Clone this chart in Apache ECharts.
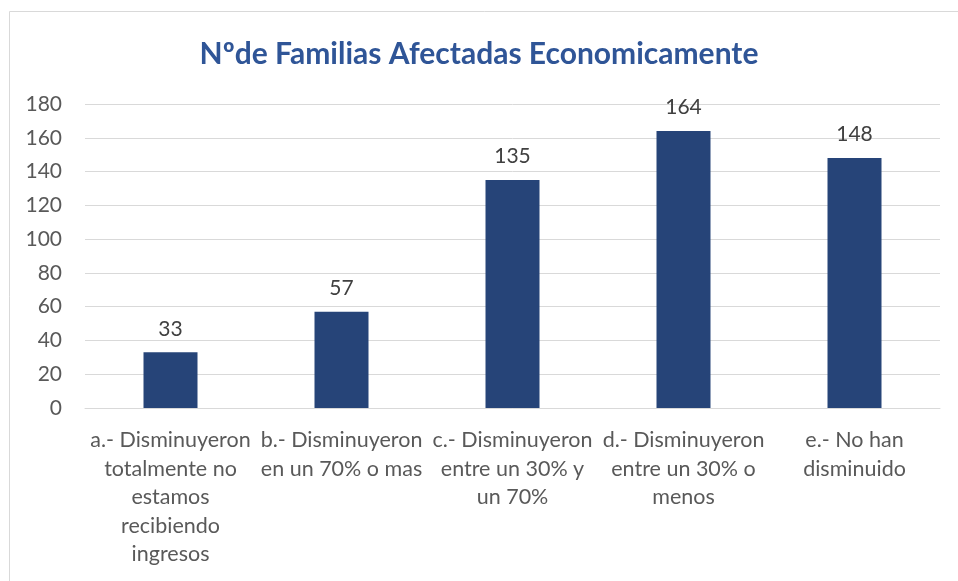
<!DOCTYPE html>
<html>
<head>
<meta charset="utf-8">
<script src="https://cdn.jsdelivr.net/npm/echarts@6/dist/echarts.min.js"></script>
<style>
  html, body { margin: 0; padding: 0; background: #fff; }
  #chart { width: 958px; height: 581px; }
</style>
</head>
<body>
<div id="chart"></div>
<script>
var categories = [
  'a.- Disminuyeron\ntotalmente no\nestamos\nrecibiendo\ningresos',
  'b.- Disminuyeron\nen un 70% o mas',
  'c.- Disminuyeron\nentre un 30% y\nun 70%',
  'd.- Disminuyeron\nentre un 30% o\nmenos',
  'e.- No han\ndisminuido'
];
var familias = [33, 57, 135, 164, 148];

var myChart = echarts.init(document.getElementById('chart'));
var font = 'Lato, Carlito, "Open Sans", sans-serif';

var option = {
  animation: false,
  textStyle: { fontFamily: font },
  title: {
    text: 'Nºde Familias Afectadas Economicamente',
    left: 'center',
    top: 34,
    textStyle: { color: '#2F5597', fontSize: 30, fontWeight: 'bold', fontFamily: font }
  },
  graphic: [{
    type: 'rect',
    shape: { x: 9.5, y: 11.5, width: 960, height: 600 },
    style: { fill: 'none', stroke: '#D9D9D9', lineWidth: 1 },
    silent: true
  }],
  grid: { left: 85, right: 18, top: 104, bottom: 173 },
  xAxis: {
    type: 'category',
    data: categories,
    axisLine: { lineStyle: { color: '#D9D9D9', width: 1 } },
    axisTick: { show: false },
    axisLabel: {
      interval: 0,
      color: '#595959',
      fontSize: 21.5,
      lineHeight: 28.5,
      margin: 18,
      fontFamily: font
    }
  },
  yAxis: {
    type: 'value',
    min: 0,
    max: 180,
    interval: 20,
    axisLine: { show: false },
    axisTick: { show: false },
    splitLine: { lineStyle: { color: '#D9D9D9', width: 1 } },
    axisLabel: { color: '#595959', fontSize: 21, margin: 23, fontFamily: font }
  },
  series: [{
    name: 'Familias',
    type: 'bar',
    data: familias,
    barWidth: 54,
    itemStyle: { color: '#264478' },
    label: {
      show: true,
      position: 'top',
      distance: 13,
      color: '#404040',
      fontSize: 21,
      fontFamily: font
    }
  }]
};

myChart.setOption(option);
</script>
</body>
</html>
